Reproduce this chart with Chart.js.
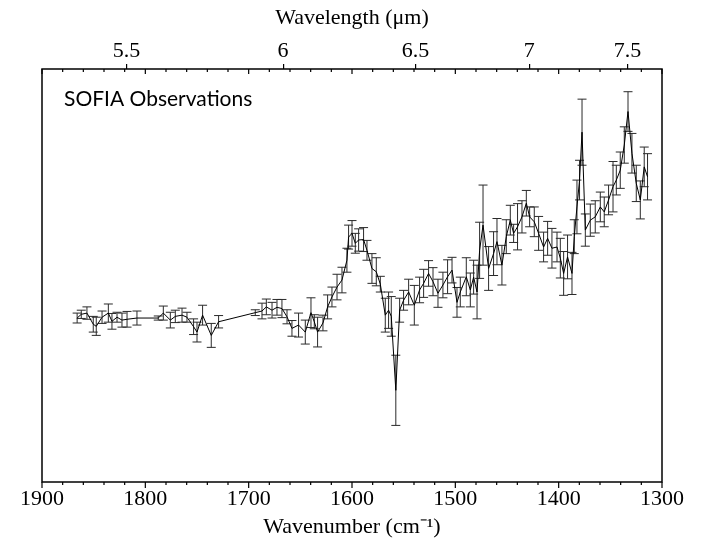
<!DOCTYPE html>
<html>
<head>
<meta charset="utf-8">
<script src="https://cdn.jsdelivr.net/npm/chart.js@4.4.1/dist/chart.umd.min.js"></script>
<style>
body { margin: 0; background: #fff; }
</style>
</head>
<body>
<canvas id="sofia" width="701" height="549"></canvas>
<script>
// SOFIA spectrum: wavenumber (cm-1), flux (arbitrary units), 1-sigma error
var wavenumber = [1866, 1862, 1856.5, 1850.4, 1847.5, 1841.9, 1835.8, 1832.3, 1827.4, 1822.6, 1817.7, 1808.1,
    1787.5, 1782.6, 1775.8, 1771, 1764.5, 1759.7, 1753.3, 1750, 1744.6, 1736.2, 1729.1,
    1693.6, 1687.1, 1682.9, 1677.4, 1672.6, 1667.8, 1662.9, 1658.1, 1651.7, 1645.2, 1639.7, 1636.5, 1633.3, 1628.1,
    1623.6, 1619.4, 1614.5, 1609.7, 1604.9, 1603.3, 1600, 1596.8, 1593.6, 1588.8, 1585.5, 1580.7, 1576.5, 1572.6,
    1567.8, 1564.6, 1562, 1557.6, 1553.9, 1550.1, 1545.2, 1539.7, 1534.6, 1530.7, 1525.9, 1521.6, 1516.8, 1512,
    1507.5, 1503.2, 1498.4, 1495.2, 1489.4, 1485.5, 1482.3, 1479, 1476.5, 1473.2, 1467.8, 1463, 1459.7, 1454.9,
    1450.7, 1446.8, 1443.6, 1439.8, 1435.5, 1431.3, 1428.1, 1423.6, 1419.4, 1414.6, 1410.7, 1406.5, 1401.6, 1398.4,
    1395.2, 1391.4, 1387.1, 1384.9, 1382.3, 1379.8, 1377.4, 1374.2, 1369.4, 1364.6, 1359.7, 1355.9, 1351.7, 1347.4,
    1344.2, 1340.4, 1336.5, 1332.9, 1329.1, 1324.9, 1321, 1317.2, 1314];

var flux = [39.7, 40.6, 40.9, 38.2, 37.7, 39.9, 40.9, 38.9, 39.9, 39.2, 39.4, 39.7,
    39.7, 40.9, 39.2, 40.1, 40.4, 39.9, 37.6, 36.3, 40.4, 35.5, 38.8,
    41.0, 41.4, 42.4, 41.6, 42.3, 42.0, 40.0, 37.2, 38.0, 36.3, 41.0, 38.8, 36.3, 38.5,
    42.4, 44.8, 47.2, 48.9, 53.7, 59.3, 60.2, 57.8, 58.6, 58.7, 56.1, 51.7, 50.9, 47.9,
    40.4, 41.6, 40.1, 22.2, 41.6, 44.0, 46.0, 42.8, 46.5, 48.1, 50.5, 48.5, 45.7, 47.7,
    49.7, 51.3, 43.5, 46.0, 49.7, 46.5, 49.6, 46.0, 56.1, 62.2, 51.7, 55.3, 58.2, 52.5,
    59.4, 63.4, 60.2, 61.8, 64.2, 67.5, 64.2, 63.0, 60.2, 56.9, 59.0, 56.6, 56.9, 54.2,
    50.5, 54.5, 50.5, 59.4, 66.6, 73.1, 84.7, 61.0, 63.4, 64.2, 66.6, 65.4, 68.3, 71.5,
    73.1, 75.5, 81.6, 89.7, 79.6, 72.3, 68.3, 76.3, 73.9];

var fluxErr = [1.2, 1.0, 1.5, 1.9, 2.2, 1.5, 2.2, 1.9, 1.2, 1.7, 1.9, 1.7,
    0.5, 1.7, 1.9, 1.5, 1.7, 1.2, 1.9, 2.4, 2.4, 2.9, 1.5,
    0.7, 1.9, 1.9, 1.9, 1.9, 2.2, 1.7, 1.9, 2.9, 2.9, 3.6, 1.7, 3.6, 1.9,
    2.9, 2.4, 3.1, 3.1, 2.9, 2.9, 3.1, 2.4, 2.7, 2.9, 2.4, 3.6, 3.4, 1.9,
    4.1, 4.4, 4.8, 8.5, 2.9, 2.4, 3.1, 4.8, 3.1, 3.4, 3.1, 3.4, 3.4, 3.1,
    4.1, 3.1, 3.6, 3.6, 4.6, 4.1, 4.1, 6.5, 6.8, 9.7, 5.3, 5.3, 5.6, 4.8,
    4.1, 3.6, 2.2, 5.6, 3.9, 3.1, 2.4, 3.6, 4.1, 3.6, 4.1, 4.8, 3.6, 4.8,
    5.3, 5.3, 5.1, 4.1, 6.5, 4.8, 8.0, 3.9, 3.9, 3.9, 3.6, 3.6, 3.6, 6.1,
    3.6, 4.4, 4.4, 4.8, 4.8, 4.4, 4.6, 4.8, 5.6];

// top axis labels in micron, placed at 10000/lambda cm-1
var wavelengthTicks = [5.5, 6, 6.5, 7, 7.5];

var serif = "'Liberation Serif', 'Times New Roman', serif";
Chart.defaults.font.family = serif;
Chart.defaults.font.size = 22;
Chart.defaults.color = '#000';

var points = [];
for (var i = 0; i < wavenumber.length; i++) {
    points.push({ x: wavenumber[i], y: flux[i] });
}

// error bars drawn under the line
var errorBars = {
    id: 'errorBars',
    beforeDatasetsDraw: function (chart) {
        var ctx = chart.ctx, xs = chart.scales.x, ys = chart.scales.y;
        ctx.save();
        ctx.strokeStyle = '#2a2a2a';
        ctx.lineWidth = 1;
        for (var i = 0; i < wavenumber.length; i++) {
            var px = xs.getPixelForValue(wavenumber[i]);
            var top = ys.getPixelForValue(flux[i] + fluxErr[i]);
            var bot = ys.getPixelForValue(flux[i] - fluxErr[i]);
            ctx.beginPath();
            ctx.moveTo(px, top); ctx.lineTo(px, bot);
            ctx.moveTo(px - 4.5, top); ctx.lineTo(px + 4.5, top);
            ctx.moveTo(px - 4.5, bot); ctx.lineTo(px + 4.5, bot);
            ctx.stroke();
        }
        ctx.restore();
    }
};

// frame, minor ticks and the label inside the plot
var frame = {
    id: 'frame',
    afterDraw: function (chart) {
        var ctx = chart.ctx, a = chart.chartArea, xs = chart.scales.x;
        ctx.save();
        ctx.strokeStyle = '#000';
        ctx.lineWidth = 1.5;
        ctx.strokeRect(a.left, a.top, a.right - a.left, a.bottom - a.top);
        ctx.lineWidth = 1.2;
        ctx.beginPath();
        for (var w = 1300; w <= 1900; w += 20) {
            var px = xs.getPixelForValue(w);
            var major = w % 100 === 0;
            ctx.moveTo(px, a.bottom); ctx.lineTo(px, a.bottom + (major ? 6 : 3));
            ctx.moveTo(px, a.top); ctx.lineTo(px, a.top + (major ? 5 : 3));
        }
        ctx.stroke();
        ctx.fillStyle = '#000';
        ctx.font = "21px Lato, 'Open Sans', sans-serif";
        ctx.textBaseline = 'alphabetic';
        ctx.fillText('SOFIA Observations', a.left + 22, a.top + 37);
        ctx.restore();
    }
};

var ctx = document.getElementById('sofia').getContext('2d');
var spectrum = new Chart(ctx, {
    type: 'line',
    data: {
        datasets: [{
            label: 'SOFIA',
            data: points,
            borderColor: '#000',
            borderWidth: 1,
            pointRadius: 0,
            tension: 0,
            fill: false
        }]
    },
    options: {
        responsive: false,
        animation: false,
        devicePixelRatio: 1,
        layout: { padding: { left: 42, right: 39, top: 0, bottom: 0 } },
        plugins: { legend: { display: false }, tooltip: { enabled: false } },
        scales: {
            x: {
                type: 'linear',
                position: 'bottom',
                reverse: true,
                min: 1300,
                max: 1900,
                grid: { display: false },
                border: { display: false },
                ticks: {
                    stepSize: 100,
                    color: '#000',
                    padding: -4,
                    maxRotation: 0,
                    font: { family: serif, size: 22 },
                    callback: function (value) { return String(value); }
                },
                title: {
                    display: true,
                    text: 'Wavenumber (cm\u207B\u00B9)',
                    color: '#000',
                    padding: { top: 0, bottom: 9 },
                    font: { family: serif, size: 22 }
                },
                afterFit: function (scale) { scale.height = 67; }
            },
            x2: {
                type: 'linear',
                position: 'top',
                reverse: true,
                min: 1300,
                max: 1900,
                afterBuildTicks: function (scale) {
                    scale.ticks = wavelengthTicks.map(function (l) { return { value: 10000 / l }; });
                },
                grid: { display: true, drawOnChartArea: false, tickLength: 5, color: '#000', lineWidth: 1.2 },
                border: { display: false },
                ticks: {
                    color: '#000',
                    padding: 0,
                    maxRotation: 0,
                    autoSkip: false,
                    font: { family: serif, size: 22 },
                    callback: function (value) { return String(+(10000 / value).toFixed(2)); }
                },
                title: {
                    display: true,
                    text: 'Wavelength (\u03BCm)',
                    color: '#000',
                    padding: { top: 5, bottom: 0 },
                    font: { family: serif, size: 22 }
                },
                afterFit: function (scale) { scale.height = 69; }
            },
            y: {
                display: false,
                min: 0,
                max: 100
            }
        }
    },
    plugins: [errorBars, frame]
});
</script>
</body>
</html>
